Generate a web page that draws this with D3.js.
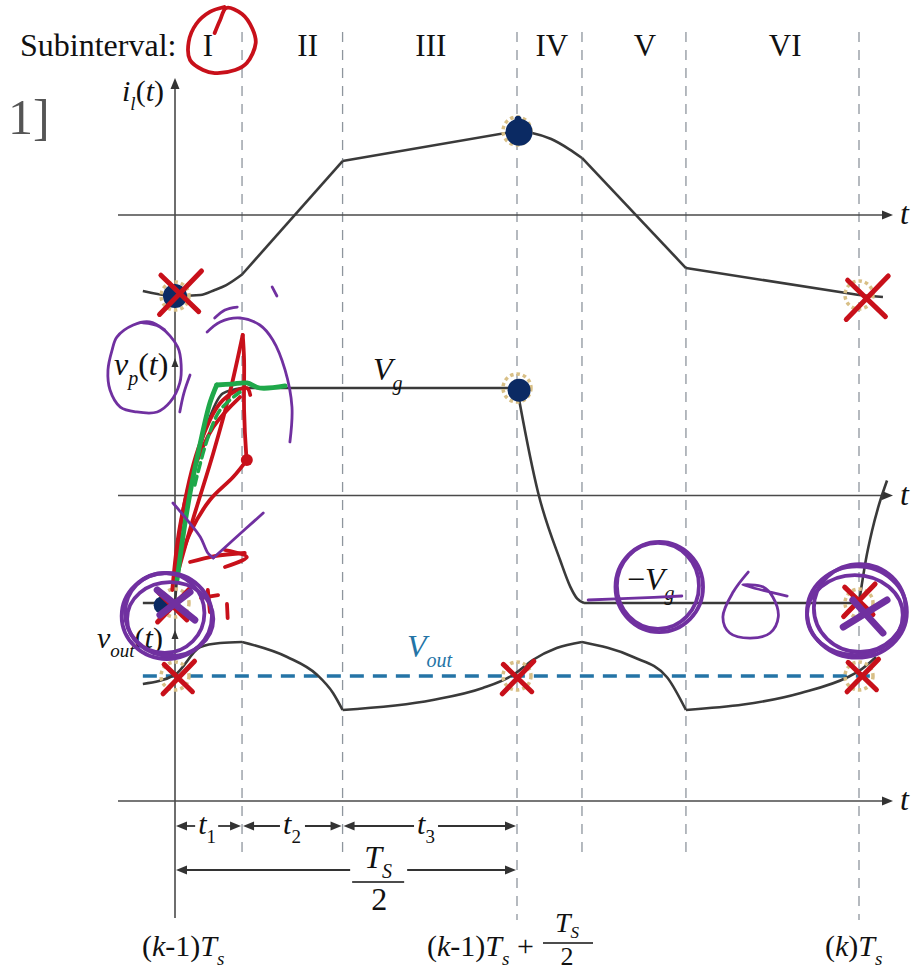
<!DOCTYPE html>
<html>
<head>
<meta charset="utf-8">
<title>Subinterval waveforms</title>
<script src="https://cdn.jsdelivr.net/npm/d3@7/dist/d3.min.js"></script>
<style>
  body { margin: 0; background: #fff; }
  svg { display: block; }
  text { font-family: "Liberation Serif", "Times New Roman", serif; }
</style>
</head>
<body>
<div class="canvas"></div>
<script>
// subinterval layout, time in units of Ts
const subintervals = ["I", "II", "III", "IV", "V", "VI"];
const subintervalEdges = [0, 0.098, 0.245, 0.5, 0.595, 0.747, 1.0];
const subintervalLabelAt = [0.048, 0.194, 0.374, 0.551, 0.687, 0.892];
const longEdges = [0.5, 1.0];

// inductor current i_l(t), in units of its peak
const iLTime = [-0.047, 0, 0.037, 0.058, 0.075, 0.098, 0.245, 0.5, 0.522, 0.55, 0.576, 0.595, 0.747, 1.0, 1.035];
const iLValue = [-0.894, -0.953, -0.941, -0.882, -0.824, -0.70, 0.635, 0.988, 0.965, 0.894, 0.776, 0.671, -0.624, -0.941, -0.965];
const iLCorners = [5, 6, 7, 11, 12, 13];

// primary voltage v_p(t), in units of Vg
const vPTime = [-0.047, 0, 0.003, 0.012, 0.022, 0.037, 0.051, 0.070, 0.098, 0.5, 0.504, 0.531, 0.563, 0.578, 0.588, 0.598, 1.0, 1.004, 1.010, 1.019, 1.029, 1.041];
const vPValue = [-1, -1, -0.76, -0.35, 0.02, 0.45, 0.73, 0.95, 1, 1, 0.86, 0.023, -0.6, -0.85, -0.96, -1, -1, -0.833, -0.6, -0.33, -0.09, 0.14];
const vPCorners = [1, 8, 9, 15, 16];

// output voltage v_out(t), in units of Vout
const vOutTime = [-0.047, 0, 0.037, 0.066, 0.098, 0.164, 0.208, 0.231, 0.245, 0.377, 0.45, 0.494, 0.523, 0.558, 0.595, 0.67, 0.719, 0.744, 0.747, 0.915, 0.984, 1.0, 1.025];
const vOutValue = [0.936, 1.01, 1.232, 1.264, 1.272, 1.152, 1.008, 0.864, 0.728, 0.808, 0.904, 1.008, 1.128, 1.224, 1.272, 1.152, 0.992, 0.76, 0.728, 0.864, 0.992, 1.04, 1.152];
const vOutCorners = [4, 8, 14, 18];
const vOutRefSpan = [-0.047, 1.026];

// sampling instants
const sampleTimes = [0, 0.5, 1];
const iLSamples = [-0.953, 0.988, -0.941];
const vPSamples = [-1, 1, -1];
const vOutSamples = [1, 1, 1];

// filled dots and red crosses drawn on the samples
const dotPanel = ["iL", "iL", "vP", "vP"];
const dotTime = [0, 0.503, 0.503, -0.018];
const dotValue = [-0.953, 0.975, 0.98, -1.02];
const crossPanel = ["iL", "iL", "vP", "vP", "vOut", "vOut", "vOut"];
const crossTime = [0.006, 1.010, -0.004, 0.999, 0.004, 0.5, 1.004];
const crossValue = [-0.906, -0.965, -1.02, -0.97, 0.992, 0.992, 1.008];

// time spans under the plot
const dimFrom = [0, 0.098, 0.245, 0];
const dimTo = [0.098, 0.245, 0.5, 0.5];
const dimLabelAt = [0.047, 0.171, 0.367, 0.297];

// hand-drawn ink, in v_p units (time in Ts, height in Vg)
const inkRed = [
  [[0.072, 4.544], [0.051, 4.498], [0.031, 4.386], [0.020, 4.219], [0.022, 4.051], [0.041, 3.958], [0.058, 3.930], [0.088, 3.958], [0.105, 4.023], [0.118, 4.209], [0.113, 4.344], [0.098, 4.479], [0.075, 4.535], [0.066, 4.423], [0.058, 4.302]],
  [[0.004, -0.721], [0.026, -0.228], [0.056, 0.395], [0.080, 0.953], [0.099, 1.493]],
  [[0.099, 1.493], [0.101, 1.260], [0.101, 0.795], [0.104, 0.395], [0.105, 0.330]],
  [[0.105, 0.330], [0.085, 0.172], [0.051, -0.042], [0.022, -0.349], [0.003, -0.693]],
  [[0, -0.786], [0.012, -0.135], [0.037, 0.488], [0.070, 0.888], [0.105, 1.0], [0.110, 0.935]],
  [[-0.004, -0.879], [0.007, -0.293], [0.026, 0.209], [0.056, 0.637], [0.095, 0.916]],
  [[0.022, -0.619], [0.058, -0.563], [0.102, -0.535]],
  [[0.073, -0.507], [0.105, -0.572], [0.073, -0.665]],
  [[0.048, -0.879], [0.051, -1.084]],
  [[0.038, -0.953], [0.063, -0.926]],
  [[0.076, -1.009], [0.077, -1.140]]
];
const inkRedBlob = [[0.105, 0.33]];
const inkGreen = [
  [[0.003, -0.786], [0.012, -0.368], [0.022, 0.023], [0.037, 0.488], [0.051, 0.860], [0.061, 1.028]],
  [[0.061, 1.028], [0.083, 1.037], [0.105, 1.047], [0.124, 1.0], [0.161, 1.019]]
];
const inkGreenDashed = [[[0.029, 0.098], [0.047, 0.516], [0.066, 0.795], [0.095, 0.963]]];
const inkPurple = [
  [[-0.047, 1.605], [-0.022, 1.567], [0.004, 1.381], [0.009, 1.214], [0.007, 1.047], [-0.007, 0.870], [-0.026, 0.777], [-0.056, 0.777], [-0.080, 0.823], [-0.095, 0.981], [-0.098, 1.167], [-0.092, 1.353], [-0.085, 1.474], [-0.061, 1.586], [-0.037, 1.614], [-0.015, 1.540]],
  [[0.047, 1.521], [0.066, 1.614], [0.095, 1.651], [0.124, 1.586], [0.143, 1.447], [0.161, 1.167], [0.171, 0.823], [0.168, 0.498]],
  [[0.058, 1.651], [0.073, 1.726], [0.091, 1.753]],
  [[0.142, 1.940], [0.149, 1.856]],
  [[0.022, 1.121], [0.013, 0.953], [0.007, 0.777]],
  [[-0.003, -0.070], [0.018, -0.228], [0.037, -0.386], [0.048, -0.535], [0.056, -0.581]],
  [[0.056, -0.581], [0.085, -0.414], [0.129, -0.163]],
  [[0.604, -0.972], [0.672, -0.955], [0.741, -0.935]],
  [[0.838, -0.712], [0.816, -0.898], [0.801, -1.130], [0.811, -1.279], [0.841, -1.326], [0.870, -1.279], [0.882, -1.130], [0.874, -0.944], [0.860, -0.851], [0.830, -0.833], [0.895, -0.935]]
];
const inkPurpleCross = [
  [[-0.026, -0.879], [0.029, -1.158]],
  [[0.022, -0.898], [-0.022, -1.112]],
  [[0.977, -1.223], [1.041, -0.972]],
  [[0.991, -0.972], [1.035, -1.279]]
];
// loops: [time, value, time radius, value radius]
const inkPurpleLoops = [
  [-0.012, -1.121, 0.066, 0.400], [-0.015, -1.093, 0.058, 0.372], [-0.007, -1.149, 0.063, 0.344],
  [0.708, -0.851, 0.064, 0.419], [0.706, -0.840, 0.060, 0.400],
  [0.997, -1.084, 0.073, 0.425], [1.001, -1.047, 0.067, 0.409], [0.994, -1.112, 0.070, 0.372]
];

// ---- setup ----
const W = 913, H = 971;
const svg = d3.select(".canvas").append("svg").attr("width", W).attr("height", H);

const x = d3.scaleLinear().domain([0, 1]).range([175, 859]);
const yI = d3.scaleLinear().domain([-1, 1]).range([300, 130]);
const yV = d3.scaleLinear().domain([-1, 1]).range([603, 388]);
const yO = d3.scaleLinear().domain([0, 1]).range([801, 676]);
const panelY = { iL: yI, vP: yV, vOut: yO };

const ink = "#333";

// arrow heads
const arrowHead = (g, tx, ty, dir, len = 11, half = 4.5) => {
  let d;
  if (dir === "right") d = `M${tx},${ty}L${tx - len},${ty - half}L${tx - len},${ty + half}Z`;
  else if (dir === "left") d = `M${tx},${ty}L${tx + len},${ty - half}L${tx + len},${ty + half}Z`;
  else d = `M${tx},${ty}L${tx - half},${ty + len}L${tx + half},${ty + len}Z`;
  g.append("path").attr("d", d).attr("fill", ink);
};

// text with italic parts and subscripts
const mathText = (g, px, py, parts, size, anchor = "start", fill = "#111", subDrop = 0.3) => {
  const t = g.append("text").attr("x", px).attr("y", py)
    .attr("font-size", size).attr("text-anchor", anchor).attr("fill", fill);
  let shift = 0;
  parts.forEach(([s, style = ""]) => {
    const sp = t.append("tspan").text(s);
    const sub = style.includes("_");
    if (style.includes("i")) sp.attr("font-style", "italic");
    const want = sub ? Math.round(size * subDrop) : 0;
    if (want !== shift) { sp.attr("dy", want - shift); shift = want; }
    if (sub) sp.attr("font-size", Math.round(size * 0.62));
  });
  return t;
};

// subinterval edges
const edges = svg.append("g");
edges.selectAll("line").data(subintervalEdges.slice(1)).join("line")
  .attr("x1", d => x(d)).attr("x2", d => x(d))
  .attr("y1", 32).attr("y2", d => (longEdges.includes(d) ? 920 : 858))
  .attr("stroke", "#8e959d").attr("stroke-width", 1.3).attr("stroke-dasharray", "10,8");

// axes
const axes = svg.append("g");
[yI, yV, yO].forEach(s => {
  axes.append("line").attr("x1", 118).attr("x2", 885).attr("y1", s(0)).attr("y2", s(0))
    .attr("stroke", "#4a4a4a").attr("stroke-width", 1.6);
  arrowHead(axes, 893, s(0), "right");
  mathText(axes, 900, s(0) + 9, [["t", "i"]], 32);
});
axes.append("line").attr("x1", x(0)).attr("x2", x(0)).attr("y1", 918).attr("y2", 84)
  .attr("stroke", "#4a4a4a").attr("stroke-width", 1.6);
arrowHead(axes, x(0), 78, "up");
arrowHead(axes, x(0), 358, "up", 9, 3.5);
arrowHead(axes, x(0), 630, "up", 9, 3.5);

// Vout reference
svg.append("line")
  .attr("x1", x(vOutRefSpan[0])).attr("x2", x(vOutRefSpan[1]))
  .attr("y1", yO(1)).attr("y2", yO(1))
  .attr("stroke", "#2474a6").attr("stroke-width", 3.5).attr("stroke-dasharray", "14,9");

// waveforms, one smooth piece per subinterval
const splitPieces = (times, values, corners) => {
  const pts = times.map((t, i) => [t, values[i]]);
  const cuts = [0, ...corners, pts.length - 1];
  return d3.pairs(cuts).map(([a, b]) => pts.slice(a, b + 1));
};
const waves = svg.append("g").attr("fill", "none").attr("stroke", "#3a3a3a")
  .attr("stroke-width", 2.6).attr("stroke-linejoin", "round");
[[iLTime, iLValue, iLCorners, yI], [vPTime, vPValue, vPCorners, yV], [vOutTime, vOutValue, vOutCorners, yO]]
  .forEach(([tt, vv, cc, ys]) => {
    const line = d3.line().x(d => x(d[0])).y(d => ys(d[1])).curve(d3.curveMonotoneX);
    waves.selectAll(null).data(splitPieces(tt, vv, cc)).join("path").attr("d", line);
  });

// sampling circles
const samples = svg.append("g").attr("fill", "none").attr("stroke", "#d8bf86")
  .attr("stroke-width", 3.5).attr("stroke-dasharray", "3.5,3");
[[iLSamples, yI], [vPSamples, yV], [vOutSamples, yO]].forEach(([vals, ys]) => {
  samples.selectAll(null).data(sampleTimes).join("circle")
    .attr("cx", d => x(d)).attr("cy", (d, i) => ys(vals[i])).attr("r", 14);
});

// navy dots
const dotR = [12, 13.5, 11.5, 9];
svg.append("g").selectAll("circle").data(dotTime).join("circle")
  .attr("cx", d => x(d)).attr("cy", (d, i) => panelY[dotPanel[i]](dotValue[i]))
  .attr("r", (d, i) => dotR[i]).attr("fill", "#0b2a63");
svg.append("circle").attr("cx", x(dotTime[1]) - 1).attr("cy", yI(dotValue[1]) - 13).attr("r", 3.5).attr("fill", "#0b2a63");

// labels
const labels = svg.append("g");
labels.append("text").attr("x", 20).attr("y", 56).attr("font-size", 32).attr("fill", "#111").text("Subinterval:");
labels.selectAll(null).data(subintervals).join("text")
  .attr("x", (d, i) => x(subintervalLabelAt[i])).attr("y", 56)
  .attr("font-size", 31).attr("text-anchor", "middle").attr("fill", "#111").text(d => d);
labels.append("text").attr("x", 8).attr("y", 134).attr("font-size", 50)
  .attr("font-family", "Lato, 'Open Sans', sans-serif").attr("font-weight", 300)
  .attr("fill", "#555").text("1]");

mathText(labels, 122, 101, [["i", "i"], ["l", "i_"], ["("], ["t", "i"], [")"]], 30);
mathText(labels, 114, 375, [["v", "i"], ["p", "i_"], ["("], ["t", "i"], [")"]], 32);
mathText(labels, 373, 380, [["V", "i"], ["g", "i_"]], 32);
mathText(labels, 627, 590, [["\u2212"], ["V", "i"], ["g", "i_"]], 32);
mathText(labels, 97, 648, [["v", "i"], ["out", "i_"], ["("], ["t", "i"], [")"]], 30);
mathText(labels, 407, 657, [["V", "i"], ["out", "i_"]], 32, "start", "#2474a6");

// time spans
const dims = svg.append("g");
const dimRowY = [826, 826, 826, 870];
const gapL = [12, 12, 12, 28], gapR = [11, 13, 12, 29];
dimFrom.forEach((f, i) => {
  const y = dimRowY[i], c = x(dimLabelAt[i]);
  dims.append("line").attr("x1", x(f) + 4).attr("x2", c - gapL[i]).attr("y1", y).attr("y2", y)
    .attr("stroke", ink).attr("stroke-width", 1.8);
  dims.append("line").attr("x1", c + gapR[i]).attr("x2", x(dimTo[i]) - 4).attr("y1", y).attr("y2", y)
    .attr("stroke", ink).attr("stroke-width", 1.8);
  arrowHead(dims, x(f) + 1, y, "left", 11, 4.5);
  arrowHead(dims, x(dimTo[i]) - 1, y, "right", 11, 4.5);
});
["1", "2", "3"].forEach((s, i) => {
  mathText(dims, x(dimLabelAt[i]), 834, [["t", "i"], [s, "_"]], 30, "middle");
});
const half = x(dimLabelAt[3]);
mathText(dims, half, 868, [["T", "i"], ["S", "i_"]], 32, "middle");
dims.append("line").attr("x1", half - 26).attr("x2", half + 26).attr("y1", 882).attr("y2", 882)
  .attr("stroke", "#111").attr("stroke-width", 1.6);
mathText(dims, half + 1, 910, [["2"]], 32, "middle");

// sampling instant labels
mathText(dims, 142, 956, [["("], ["k", "i"], ["-1)"], ["T", "i"], ["s", "i_"]], 30);
mathText(dims, 427, 956, [["("], ["k", "i"], ["-1)"], ["T", "i"], ["s", "i_"], [" +"]], 30);
mathText(dims, 567, 932, [["T", "i"], ["S", "i_"]], 28, "middle", "#111", 0.22);
dims.append("line").attr("x1", 543).attr("x2", 593).attr("y1", 943).attr("y2", 943)
  .attr("stroke", "#111").attr("stroke-width", 1.6);
mathText(dims, 567, 965, [["2"]], 26, "middle");
mathText(dims, 825, 956, [["("], ["k", "i"], [")"], ["T", "i"], ["s", "i_"]], 30);

// hand-drawn ink
const inkLine = d3.line().x(d => x(d[0])).y(d => yV(d[1])).curve(d3.curveCatmullRom.alpha(0.5));
const inkG = svg.append("g").attr("fill", "none").attr("stroke-linecap", "round").attr("stroke-linejoin", "round");
inkG.selectAll(null).data(inkRed).join("path").attr("d", inkLine)
  .attr("stroke", "#c8101a").attr("stroke-width", 3.8);
inkG.selectAll(null).data(inkRedBlob).join("circle")
  .attr("cx", d => x(d[0])).attr("cy", d => yV(d[1])).attr("r", 6).attr("fill", "#c8101a");
inkG.selectAll(null).data(inkGreen).join("path").attr("d", inkLine)
  .attr("stroke", "#1fa84a").attr("stroke-width", 4.8);
inkG.selectAll(null).data(inkGreenDashed).join("path").attr("d", inkLine)
  .attr("stroke", "#1fa84a").attr("stroke-width", 3.5).attr("stroke-dasharray", "9,5");

// red crosses on samples
const crossPath = (cx, cy, s) =>
  `M${cx - 14 * s},${cy + 16 * s}L${cx + 16 * s},${cy - 15 * s}M${cx - 13 * s},${cy - 12 * s}L${cx + 14 * s},${cy + 14 * s}`;
inkG.selectAll(null).data(crossTime).join("path")
  .attr("d", (d, i) => crossPath(x(d), panelY[crossPanel[i]](crossValue[i]), crossPanel[i] === "iL" ? 1.4 : 1.05))
  .attr("stroke", "#c8101a").attr("stroke-width", 5);

// purple ink
inkG.selectAll(null).data(inkPurple).join("path").attr("d", inkLine)
  .attr("stroke", "#7030a0").attr("stroke-width", 2.8);
inkG.selectAll(null).data(inkPurpleLoops).join("ellipse")
  .attr("cx", d => x(d[0])).attr("cy", d => yV(d[1]))
  .attr("rx", d => x(d[2]) - x(0)).attr("ry", d => yV(0) - yV(d[3]))
  .attr("stroke", "#7030a0").attr("stroke-width", 3.8);
inkG.selectAll(null).data(inkPurpleCross).join("path").attr("d", inkLine)
  .attr("stroke", "#7030a0").attr("stroke-width", 7);
</script>
</body>
</html>
